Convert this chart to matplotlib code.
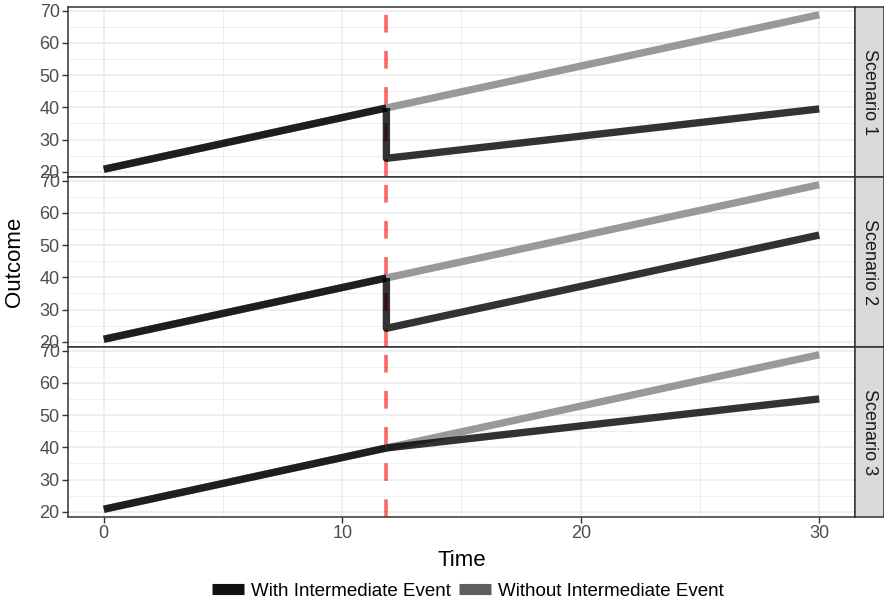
import matplotlib
matplotlib.use("Agg")
import matplotlib.pyplot as plt
from matplotlib.lines import Line2D

plt.rcParams['font.family'] = ['Liberation Sans', 'DejaVu Sans']

# ---- data ----
scenarios = ["Scenario 1", "Scenario 2", "Scenario 3"]
event_time = 11.85
pre_time = [0, 11.85]
pre_value = [20.8, 39.8]
without_time = [11.85, 30]
without_value = [39.8, 68.7]
# "with event" post-event paths per scenario: time, value
with_post_time = [[11.85, 11.85, 30], [11.85, 11.85, 30], [11.85, 30]]
with_post_value = [[39.8, 24.2, 39.5], [39.8, 24.2, 53.1], [39.8, 55.0]]
x_ticks = [0, 10, 20, 30]
y_ticks = [20, 30, 40, 50, 60, 70]

W, H = 884, 605
fig = plt.figure(figsize=(W / 100, H / 100), dpi=100)

left, right = 68, 855
panel_tops = [7, 177, 347]
panel_h = 170
strip_w = 29

all_y = pre_value + without_value + [v for s in with_post_value for v in s]
ylo, yhi = min(all_y), max(all_y)
pad = 0.05 * (yhi - ylo)
ylim = (ylo - pad, yhi + pad)
xlim = (-1.5, 31.5)

tick_col = "#4d4d4d"
border_col = "#333333"
fs = 13
for i, (name, top) in enumerate(zip(scenarios, panel_tops)):
    ax = fig.add_axes([left / W, 1 - (top + panel_h) / H, (right - left) / W, panel_h / H])
    ax.set_xlim(*xlim)
    ax.set_ylim(*ylim)
    # grid
    for xv in [5, 15, 25]:
        ax.axvline(xv, color="#ebebeb", lw=0.55, zorder=0)
    for xv in x_ticks:
        ax.axvline(xv, color="#ebebeb", lw=1.1, zorder=0)
    for yv in [25, 35, 45, 55, 65]:
        ax.axhline(yv, color="#ebebeb", lw=0.55, zorder=0)
    for yv in y_ticks:
        ax.axhline(yv, color="#ebebeb", lw=1.1, zorder=0)
    # red event line
    ax.axvline(event_time, color="#ff0000", alpha=0.6, lw=2.6, ls=(0, (4.9, 5.1)), zorder=1)
    # lines
    ax.plot(without_time, without_value, color="#999999", lw=5.3, solid_capstyle="butt", zorder=2)
    ax.plot(pre_time, pre_value, color="#999999", lw=5.3, solid_capstyle="butt", zorder=2)
    ax.plot(pre_time, pre_value, color="black", alpha=0.8, lw=5.3, solid_capstyle="butt", zorder=3)
    ax.plot(with_post_time[i], with_post_value[i], color="black", alpha=0.8, lw=5.3,
            solid_capstyle="butt", solid_joinstyle="round", zorder=3)
    ax.set_yticks(y_ticks)
    ax.set_xticks(x_ticks)
    ax.tick_params(axis="both", colors=border_col, length=4, width=1.0, labelcolor=tick_col,
                   labelsize=fs, pad=2)
    if i < 2:
        ax.tick_params(axis="x", labelbottom=False, length=0)
    for s in ax.spines.values():
        s.set_color(border_col)
        s.set_linewidth(1.1)
    # strip
    sax = fig.add_axes([right / W, 1 - (top + panel_h) / H, strip_w / W, panel_h / H])
    sax.set_xticks([]); sax.set_yticks([])
    sax.set_facecolor("#d9d9d9")
    for s in sax.spines.values():
        s.set_color(border_col)
        s.set_linewidth(1.1)
    sax.text(0.5, 0.5, name, rotation=-90, ha="center", va="center", fontsize=fs,
             color="#1a1a1a", transform=sax.transAxes)

fig.text((left + right) / 2 / W, 1 - 561 / H, "Time", ha="center", va="center", fontsize=16)
fig.text(15 / W, 1 - 262 / H, "Outcome", rotation=90, ha="center", va="center", fontsize=16)

handles = [Line2D([0], [0], color="#111111", lw=8, solid_capstyle="butt"),
           Line2D([0], [0], color="#5e5e5e", lw=8, solid_capstyle="butt")]
fig.legend(handles, ["With Intermediate Event", "Without Intermediate Event"],
           loc="center", bbox_to_anchor=(468 / W, 1 - 591 / H), ncol=2, frameon=False,
           fontsize=13.5, handlelength=1.7, handletextpad=0.4, columnspacing=0.4)

fig.savefig("out.png", dpi=100)
